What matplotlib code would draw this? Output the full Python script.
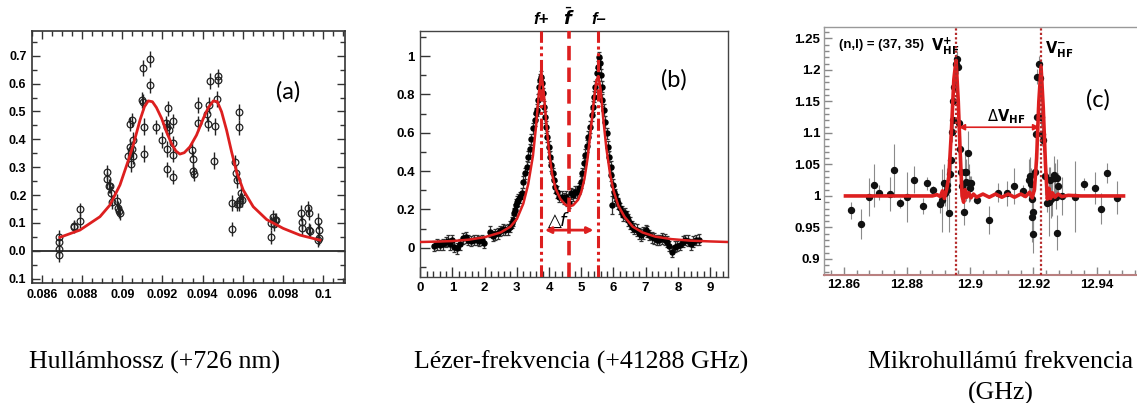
import matplotlib
matplotlib.use('Agg')
import matplotlib.pyplot as plt
from matplotlib.ticker import FixedLocator, MultipleLocator
import matplotlib.transforms as mtransforms

plt.rcParams['mathtext.fontset'] = 'dejavusans'

# ---------------- panel (a): wavelength scan ----------------
a_x = [0.08682, 0.08682, 0.08685, 0.08685, 0.08758, 0.08758, 0.0879, 0.0879,
       0.08921, 0.08923, 0.08932, 0.08939, 0.08943, 0.08946, 0.08974, 0.08976,
       0.08984, 0.08986, 0.0903, 0.09038, 0.09038, 0.09047, 0.09042, 0.09047,
       0.09052, 0.09055, 0.091, 0.09105, 0.09102, 0.09108, 0.0911, 0.09138,
       0.09138, 0.09167, 0.0920, 0.09217, 0.09222, 0.09225, 0.09225, 0.09228,
       0.09232, 0.09251, 0.09251, 0.09255, 0.09255, 0.09347, 0.0935, 0.09353,
       0.09355, 0.09375, 0.09378, 0.09424, 0.09428, 0.09433, 0.09437, 0.09459,
       0.09462, 0.09472, 0.09477, 0.09477, 0.09549, 0.09549, 0.09563, 0.09567,
       0.0957, 0.09573, 0.0958, 0.0958, 0.09582, 0.09587, 0.0959, 0.09597,
       0.09741, 0.09744, 0.09752, 0.09757, 0.0976, 0.09765, 0.09891, 0.09894,
       0.09898, 0.09928, 0.09933, 0.09930, 0.09937, 0.09978, 0.09981, 0.09983,
       0.09978]
a_y = [0.048, 0.032, 0.005, -0.016, 0.090, 0.086, 0.148, 0.106,
       0.283, 0.257, 0.233, 0.233, 0.206, 0.176, 0.178, 0.154,
       0.142, 0.134, 0.340, 0.373, 0.455, 0.469, 0.311, 0.365,
       0.397, 0.340, 0.541, 0.535, 0.657, 0.445, 0.349, 0.688,
       0.594, 0.445, 0.397, 0.457, 0.443, 0.292, 0.366, 0.511,
       0.435, 0.388, 0.266, 0.467, 0.345, 0.361, 0.286, 0.330,
       0.275, 0.523, 0.457, 0.490, 0.455, 0.523, 0.610, 0.323,
       0.447, 0.544, 0.627, 0.613, 0.172, 0.077, 0.317, 0.278,
       0.254, 0.166, 0.169, 0.443, 0.499, 0.181, 0.206, 0.182,
       0.050, 0.100, 0.122, 0.096, 0.112, 0.110, 0.136, 0.104,
       0.080, 0.152, 0.136, 0.074, 0.072, 0.106, 0.047, 0.074,
       0.038]
a_err = [0.025, 0.025, 0.025, 0.025, 0.022, 0.022, 0.025, 0.025,
         0.025, 0.025, 0.025, 0.025, 0.025, 0.025, 0.025, 0.025,
         0.025, 0.025, 0.028, 0.028, 0.025, 0.025, 0.028, 0.028,
         0.028, 0.028, 0.028, 0.028, 0.028, 0.030, 0.030, 0.028,
         0.028, 0.025, 0.028, 0.028, 0.028, 0.028, 0.028, 0.028,
         0.028, 0.025, 0.025, 0.025, 0.028, 0.025, 0.025, 0.028,
         0.025, 0.028, 0.028, 0.028, 0.025, 0.028, 0.028, 0.030,
         0.030, 0.028, 0.025, 0.025, 0.028, 0.025, 0.028, 0.028,
         0.028, 0.025, 0.025, 0.028, 0.028, 0.025, 0.025, 0.025,
         0.025, 0.025, 0.025, 0.025, 0.025, 0.025, 0.028, 0.025,
         0.025, 0.025, 0.025, 0.025, 0.025, 0.028, 0.025, 0.025,
         0.025]
a_fit_x = [0.08688, 0.08788, 0.08888, 0.08938, 0.08988, 0.0903, 0.09054,
           0.09088, 0.0911, 0.09129, 0.0915, 0.0917, 0.09196, 0.0922,
           0.09245, 0.09267, 0.09287, 0.09309, 0.09337, 0.0937, 0.09404,
           0.09429, 0.09454, 0.09474, 0.09495, 0.0952, 0.09545, 0.0957,
           0.09603, 0.09653, 0.0972, 0.09803, 0.09886, 0.09986]
a_fit_y = [0.048, 0.074, 0.122, 0.164, 0.236, 0.325, 0.379,
           0.469, 0.517, 0.538, 0.535, 0.514, 0.475, 0.427,
           0.385, 0.358, 0.347, 0.352, 0.373, 0.415, 0.475,
           0.514, 0.538, 0.535, 0.499, 0.433, 0.355, 0.283,
           0.218, 0.158, 0.112, 0.080, 0.056, 0.038]
a_yticks = [-0.1, 0.0, 0.1, 0.2, 0.3, 0.4, 0.5, 0.6, 0.7]
a_ylabels = ['0.1', '0.0', '0.1', '0.2', '0.3', '0.4', '0.5', '0.6', '0.7']
a_xticks = [0.086, 0.088, 0.090, 0.092, 0.094, 0.096, 0.098, 0.100]
a_xlabels = ['0.086', '0.088', '0.09', '0.092', '0.094', '0.096', '0.098', '0.1']

# ---------------- panel (b): laser frequency scan ----------------
b_x = [0.43, 0.53, 0.61, 0.69, 0.79, 0.87, 0.92, 0.98, 1.05, 1.15, 1.23, 1.34,
       1.41, 1.49, 1.57, 1.66, 1.75, 1.82, 1.91, 1.97, 2.16, 2.25, 2.33, 2.40,
       2.49, 2.56, 2.64, 2.71, 2.79, 2.84, 2.89, 2.92, 2.94, 2.97, 3.01, 3.05,
       3.11, 3.15, 3.20, 3.26, 3.30, 3.36, 3.41, 3.45, 3.50, 3.56, 3.59, 3.61,
       3.66, 3.69, 3.72, 3.75, 3.79, 3.82, 3.85, 3.88, 3.91, 3.95, 3.99, 4.03,
       4.07, 4.11, 4.15, 4.20, 4.26, 4.32, 4.39, 4.46, 4.53, 4.57, 4.63, 4.68,
       4.73, 4.81, 4.86, 4.92, 4.98, 5.03, 5.08, 5.13, 5.18, 5.22, 5.27, 5.32,
       5.35, 5.39, 5.43, 5.48, 5.51, 5.54, 5.57, 5.60, 5.63, 5.66, 5.71, 5.75,
       5.79, 5.83, 5.87, 5.91, 5.94, 5.96, 5.99, 6.03, 6.06, 6.10, 6.15, 6.20,
       6.26, 6.31, 6.36, 6.41, 6.46, 6.51, 6.58, 6.64, 6.72, 6.78, 6.85, 6.93,
       7.00, 7.05, 7.11, 7.19, 7.26, 7.34, 7.43, 7.51, 7.60, 7.67, 7.74, 7.82,
       7.90, 7.98, 8.07, 8.15, 8.23, 8.33, 8.40, 8.48, 8.56, 8.66]
b_y = [0.009, 0.017, 0.014, 0.017, 0.030, 0.037, 0.017, 0.040, 0.005, -0.003, 0.017, 0.049,
       0.054, 0.040, 0.035, 0.040, 0.040, 0.035, 0.040, 0.026, 0.083, 0.061, 0.070, 0.075,
       0.087, 0.096, 0.092, 0.096, 0.110, 0.130, 0.144, 0.179, 0.197, 0.223, 0.240, 0.249,
       0.263, 0.283, 0.344, 0.388, 0.423, 0.475, 0.513, 0.565, 0.623, 0.666, 0.701, 0.718,
       0.770, 0.837, 0.875, 0.892, 0.857, 0.805, 0.736, 0.683, 0.631, 0.579, 0.527, 0.475,
       0.431, 0.388, 0.353, 0.318, 0.292, 0.266, 0.266, 0.257, 0.266, 0.249, 0.235, 0.283,
       0.275, 0.292, 0.292, 0.310, 0.344, 0.388, 0.440, 0.483, 0.530, 0.579, 0.631, 0.692,
       0.736, 0.788, 0.840, 0.910, 0.944, 0.993, 0.962, 0.901, 0.840, 0.770, 0.718, 0.657,
       0.597, 0.527, 0.475, 0.423, 0.379, 0.223, 0.327, 0.292, 0.275, 0.249, 0.232, 0.205,
       0.188, 0.170, 0.179, 0.162, 0.144, 0.130, 0.110, 0.100, 0.092, 0.075, 0.066, 0.078,
       0.092, 0.083, 0.066, 0.054, 0.049, 0.040, 0.040, 0.049, 0.043, 0.031, 0.009, -0.021,
       0.005, 0.009, 0.014, 0.031, 0.040, 0.037, 0.017, 0.031, 0.040, 0.043]
b_err = [0.028, 0.028, 0.028, 0.028, 0.028, 0.028, 0.028, 0.028, 0.028, 0.028, 0.028, 0.028,
         0.028, 0.028, 0.028, 0.028, 0.028, 0.028, 0.028, 0.028, 0.028, 0.028, 0.028, 0.028,
         0.028, 0.028, 0.028, 0.028, 0.028, 0.028, 0.028, 0.030, 0.030, 0.030, 0.030, 0.030,
         0.030, 0.030, 0.030, 0.030, 0.030, 0.030, 0.030, 0.030, 0.030, 0.030, 0.030, 0.030,
         0.030, 0.030, 0.030, 0.030, 0.030, 0.030, 0.030, 0.030, 0.030, 0.030, 0.030, 0.030,
         0.030, 0.030, 0.030, 0.030, 0.030, 0.030, 0.030, 0.030, 0.030, 0.030, 0.030, 0.030,
         0.030, 0.030, 0.030, 0.030, 0.030, 0.030, 0.030, 0.030, 0.030, 0.030, 0.030, 0.030,
         0.030, 0.030, 0.030, 0.030, 0.030, 0.030, 0.030, 0.030, 0.030, 0.030, 0.030, 0.030,
         0.030, 0.030, 0.030, 0.030, 0.030, 0.045, 0.030, 0.030, 0.030, 0.030, 0.030, 0.030,
         0.030, 0.030, 0.030, 0.030, 0.030, 0.030, 0.030, 0.030, 0.030, 0.030, 0.030, 0.030,
         0.028, 0.028, 0.028, 0.028, 0.028, 0.028, 0.028, 0.028, 0.028, 0.028, 0.028, 0.028,
         0.028, 0.028, 0.028, 0.028, 0.028, 0.028, 0.028, 0.028, 0.028, 0.028]
b_fit_x = [0.0, 0.5, 1.0, 1.5, 2.0, 2.5, 2.8, 3.0, 3.2, 3.35, 3.5, 3.6, 3.68, 3.76,
           3.84, 3.92, 4.0, 4.1, 4.2, 4.35, 4.5, 4.63, 4.75, 4.9, 5.0, 5.1, 5.2,
           5.3, 5.4, 5.47, 5.53, 5.6, 5.68, 5.78, 5.9, 6.0, 6.15, 6.35, 6.6, 6.9,
           7.3, 7.8, 8.4, 9.0, 9.55]
b_fit_y = [0.030, 0.032, 0.035, 0.042, 0.055, 0.080, 0.110, 0.150, 0.230, 0.330,
           0.480, 0.640, 0.800, 0.920, 0.800, 0.640, 0.500, 0.380, 0.310, 0.255,
           0.225, 0.215, 0.222, 0.250, 0.290, 0.360, 0.470, 0.620, 0.780, 0.870,
           0.895, 0.830, 0.680, 0.520, 0.380, 0.300, 0.220, 0.160, 0.110, 0.080,
           0.058, 0.045, 0.037, 0.033, 0.030]
b_lines = {'f_plus': 3.76, 'f_bar': 4.63, 'f_minus': 5.53}

# ---------------- panel (c): microwave frequency scan ----------------
c_x = [12.8623, 12.8653, 12.8678, 12.8696, 12.8712, 12.8746, 12.8760, 12.8779,
       12.8801, 12.8822, 12.8849, 12.8862, 12.8881, 12.8904, 12.8912, 12.8918,
       12.8920, 12.8925, 12.8927, 12.8933, 12.8936, 12.8940, 12.8941, 12.8944,
       12.8946, 12.8950, 12.8955, 12.8957, 12.8961, 12.8963, 12.8967, 12.8970,
       12.8973, 12.8980, 12.8983, 12.8986, 12.8988, 12.8993, 12.8995, 12.8999,
       12.9003, 12.9020, 12.9060, 12.9087, 12.9115, 12.9138, 12.9168, 12.9185,
       12.9188, 12.9191, 12.9194, 12.9196, 12.9199, 12.9199, 12.9205, 12.9208,
       12.9210, 12.9212, 12.9216, 12.9220, 12.9224, 12.9227, 12.9231, 12.9237,
       12.9242, 12.9248, 12.9252, 12.9256, 12.9260, 12.9265, 12.9268, 12.9271,
       12.9273, 12.9276, 12.9277, 12.9290, 12.9331, 12.9360, 12.9394, 12.9414,
       12.9434, 12.9463]
c_y = [0.977, 0.955, 0.998, 1.017, 1.005, 1.003, 1.041, 0.989,
       0.998, 1.026, 0.984, 1.020, 1.010, 0.988, 0.993, 1.020,
       1.004, 1.017, 1.009, 0.973, 1.035, 1.057, 1.101, 1.120,
       1.150, 1.173, 1.210, 1.218, 1.205, 1.115, 1.075, 1.038,
       1.015, 0.974, 1.038, 1.022, 1.038, 1.068, 1.021, 1.012,
       1.020, 0.993, 0.962, 1.005, 1.004, 1.016, 1.008, 1.026,
       1.032, 1.019, 0.995, 0.967, 0.975, 0.939, 1.038, 1.099,
       1.126, 1.189, 1.210, 1.187, 1.126, 1.099, 1.089, 1.031,
       0.989, 0.991, 1.026, 0.995, 0.998, 1.033, 1.028, 0.999,
       1.028, 0.942, 1.016, 1.000, 0.999, 1.019, 1.013, 0.980,
       1.037, 0.997]
c_err = [0.014, 0.024, 0.030, 0.034, 0.012, 0.027, 0.042, 0.008,
         0.040, 0.021, 0.013, 0.010, 0.006, 0.015, 0.050, 0.030,
         0.020, 0.025, 0.035, 0.030, 0.020, 0.020, 0.015, 0.015,
         0.015, 0.015, 0.015, 0.012, 0.012, 0.015, 0.020, 0.025,
         0.020, 0.020, 0.035, 0.030, 0.020, 0.035, 0.030, 0.020,
         0.012, 0.006, 0.022, 0.015, 0.020, 0.028, 0.010, 0.033,
         0.030, 0.025, 0.035, 0.040, 0.045, 0.030, 0.030, 0.015,
         0.015, 0.012, 0.012, 0.015, 0.015, 0.020, 0.020, 0.030,
         0.015, 0.055, 0.020, 0.030, 0.030, 0.030, 0.025, 0.020,
         0.030, 0.027, 0.020, 0.030, 0.056, 0.010, 0.025, 0.024,
         0.016, 0.026]
c_fit_x = [12.8605, 12.8880, 12.8895, 12.8905, 12.8912, 12.8918, 12.8925, 12.8932,
           12.8940, 12.8948, 12.8955, 12.8962, 12.8968, 12.8974, 12.8979, 12.8984,
           12.8989, 12.8995, 12.9002, 12.9010, 12.9020, 12.9040, 12.9060, 12.9080,
           12.9100, 12.9120, 12.9140, 12.9160, 12.9175, 12.9188, 12.9196, 12.9203,
           12.9210, 12.9217, 12.9224, 12.9231, 12.9238, 12.9244, 12.9249, 12.9254,
           12.9260, 12.9268, 12.9278, 12.9290, 12.9310, 12.9350, 12.9400, 12.9450,
           12.9485]
c_fit_y = [1.000, 1.000, 1.002, 0.999, 1.008, 0.996, 1.010, 1.030, 1.100, 1.185,
           1.215, 1.150, 1.070, 1.000, 0.990, 1.010, 0.998, 1.005, 0.997, 1.003,
           0.998, 1.003, 0.998, 1.003, 0.998, 1.003, 0.998, 1.003, 0.999, 1.006,
           0.997, 1.010, 1.060, 1.150, 1.205, 1.140, 1.050, 0.995, 1.012, 0.996,
           1.005, 0.998, 1.003, 0.999, 1.001, 1.000, 1.000, 1.000, 1.000]
c_lines = [12.8955, 12.9224]
c_yticks = [0.9, 0.95, 1.0, 1.05, 1.1, 1.15, 1.2, 1.25]
c_ylabels = ['0.9', '0.95', '1', '1.05', '1.1', '1.15', '1.2', '1.25']
c_xticks = [12.86, 12.88, 12.90, 12.92, 12.94]
c_xlabels = ['12.86', '12.88', '12.9', '12.92', '12.94']

captions = ['Hullámhossz (+726 nm)', 'Lézer-frekvencia (+41288 GHz)',
            'Mikrohullámú frekvencia', '(GHz)']

RED = '#dd1f1f'
W, H = 1137, 403
fig = plt.figure(figsize=(W / 100, H / 100), dpi=100)


def box(l, t, r, b):
    return [l / W, (H - b) / H, (r - l) / W, (b - t) / H]


tickfont = dict(family='Liberation Sans', weight='bold')

# ---- (a)
ax = fig.add_axes(box(32, 31, 345, 283))
ax.axhline(0, color='black', lw=1.1, zorder=1)
ax.errorbar(a_x, a_y, yerr=a_err, fmt='o', ms=4.8, mfc='none', mec='#222222',
            mew=0.9, ecolor='#222222', elinewidth=1.0, capsize=0, zorder=2)
ax.plot(a_fit_x, a_fit_y, color=RED, lw=2.0, zorder=3)
ax.set_xlim(0.08549, 0.10111)
ax.set_ylim(-0.116, 0.789)
ax.xaxis.set_major_locator(FixedLocator(a_xticks))
ax.set_xticklabels(a_xlabels, fontsize=9, **tickfont)
ax.yaxis.set_major_locator(FixedLocator(a_yticks))
ax.set_yticklabels(a_ylabels, fontsize=9, **tickfont)
ax.xaxis.set_minor_locator(MultipleLocator(0.0005))
ax.yaxis.set_minor_locator(MultipleLocator(0.05))
ax.tick_params(which='both', direction='in', top=True, right=True, colors='#333333',
               labelcolor='black')
ax.tick_params(which='major', length=6, width=1, pad=4)
ax.tick_params(which='minor', length=3.5, width=1)
for s in ax.spines.values():
    s.set_color('#333333')
    s.set_linewidth(1.2)
ax.text(0.09827, 0.571, '(a)', fontsize=17, family='Lato', ha='center', va='center')

# ---- (b)
ax = fig.add_axes(box(420.3, 30.7, 727.7, 276.7))
ax.errorbar(b_x, b_y, yerr=b_err, fmt='o', ms=3.6, color='black', ecolor='#333333',
            elinewidth=0.9, capsize=1.6, capthick=0.9, zorder=2)
ax.plot(b_fit_x, b_fit_y, color=RED, lw=1.8, zorder=3)
ax.axvline(b_lines['f_plus'], color=RED, lw=2.2, ls=(0, (4, 1.2, 1, 1.2, 1, 1.2)), zorder=4)
ax.axvline(b_lines['f_minus'], color=RED, lw=2.2, ls=(0, (4, 1.2, 1, 1.2, 1, 1.2)), zorder=4)
ax.axvline(b_lines['f_bar'], color=RED, lw=2.6, ls=(0, (4, 2)), zorder=4)
ax.annotate('', xy=(3.87, 0.092), xytext=(5.38, 0.092),
            arrowprops=dict(arrowstyle='<|-|>', color=RED, lw=2, mutation_scale=9,
                            shrinkA=0, shrinkB=0), zorder=5)
ax.text(4.24, 0.145, r'$\triangle\!\!f$', fontsize=13, ha='center', va='center')
ax.set_xlim(0, 9.55)
ax.set_ylim(-0.151, 1.132)
ax.xaxis.set_minor_locator(MultipleLocator(0.2))
ax.yaxis.set_minor_locator(MultipleLocator(0.1))
ax.set_xticks(range(10))
ax.set_xticklabels([str(i) for i in range(10)], fontsize=9.5, **tickfont)
ax.set_yticks([0, 0.2, 0.4, 0.6, 0.8, 1.0])
ax.set_yticklabels(['0', '0.2', '0.4', '0.6', '0.8', '1'], fontsize=9.5, **tickfont)
ax.tick_params(which='both', direction='in', colors='#333333', labelcolor='black')
ax.tick_params(which='major', length=7, width=1, pad=4)
ax.tick_params(which='minor', length=4, width=1)
for s in ax.spines.values():
    s.set_color('#444444')
    s.set_linewidth(1.0)
trans = mtransforms.blended_transform_factory(ax.transData, ax.transAxes)
ax.text(b_lines['f_plus'], 1.045, 'f+', transform=trans, ha='center', va='center',
        fontsize=12, family='Liberation Sans', style='italic', weight='bold')
ax.text(b_lines['f_bar'], 1.05, r'$\bar{\mathbfit{f}}$', transform=trans, ha='center',
        va='center', fontsize=13)
ax.text(b_lines['f_minus'], 1.045, 'f\u2013', transform=trans, ha='center', va='center',
        fontsize=12, family='Liberation Sans', style='italic', weight='bold')
ax.text(7.88, 0.875, '(b)', fontsize=17, family='Lato', ha='center', va='center')

# ---- (c)
ax = fig.add_axes(box(824.3, 27, 1145, 275))
ax.errorbar(c_x, c_y, yerr=c_err, fmt='o', ms=4.3, color='#111111', ecolor='#8a8a8a',
            elinewidth=0.8, capsize=0, zorder=2)
ax.plot(c_fit_x, c_fit_y, color=RED, lw=2.6, zorder=3)
for v in c_lines:
    ax.axvline(v, color='#b52a2a', lw=1.6, ls=(0, (1, 1)), zorder=4)
ax.annotate('', xy=(12.8963, 1.109), xytext=(12.9219, 1.109),
            arrowprops=dict(arrowstyle='<|-|>', color=RED, lw=1.2, mutation_scale=9,
                            shrinkA=0, shrinkB=0), zorder=5)
ax.text(12.9115, 1.126, r'$\Delta\mathbf{V_{HF}}$', fontsize=10.5, ha='center', va='center')
ax.text(12.8583, 1.239, '(n,l) = (37, 35)', fontsize=9.5, family='Liberation Sans',
        weight='bold', ha='left', va='center')
ax.text(12.8876, 1.237, r'$\mathbf{V^{+}_{HF}}$', fontsize=10.5, ha='left', va='center')
ax.text(12.9238, 1.232, r'$\mathbf{V^{-}_{HF}}$', fontsize=10.5, ha='left', va='center')
ax.text(12.9405, 1.152, '(c)', fontsize=17, family='Lato', ha='center', va='center')
ax.set_xlim(12.8538, 12.9553)
ax.set_ylim(0.8746, 1.268)
ax.xaxis.set_major_locator(FixedLocator(c_xticks))
ax.set_xticklabels(c_xlabels, fontsize=9.5, **tickfont)
ax.yaxis.set_major_locator(FixedLocator(c_yticks))
ax.set_yticklabels(c_ylabels, fontsize=9.5, **tickfont)
ax.xaxis.set_minor_locator(MultipleLocator(0.004))
ax.yaxis.set_minor_locator(MultipleLocator(0.01))
ax.tick_params(which='both', direction='in', colors='#888888', labelcolor='black')
ax.tick_params(which='major', length=6, width=1, pad=3)
ax.tick_params(which='minor', length=3.5, width=1)
for s in ax.spines.values():
    s.set_color('#999999')
    s.set_linewidth(1.0)
ax.spines['bottom'].set_color('#b98080')
ax.spines['bottom'].set_linewidth(1.5)

# ---- captions
cap = dict(family='Liberation Serif', fontsize=18.6, va='center', ha='center')
fig.text(155 / W, 1 - 362 / H, captions[0], **cap)
fig.text(581 / W, 1 - 362 / H, captions[1], **cap)
fig.text(1001 / W, 1 - 362 / H, captions[2], **cap)
fig.text(1001 / W, 1 - 393 / H, captions[3], **cap)

fig.savefig('out.png', dpi=100)
